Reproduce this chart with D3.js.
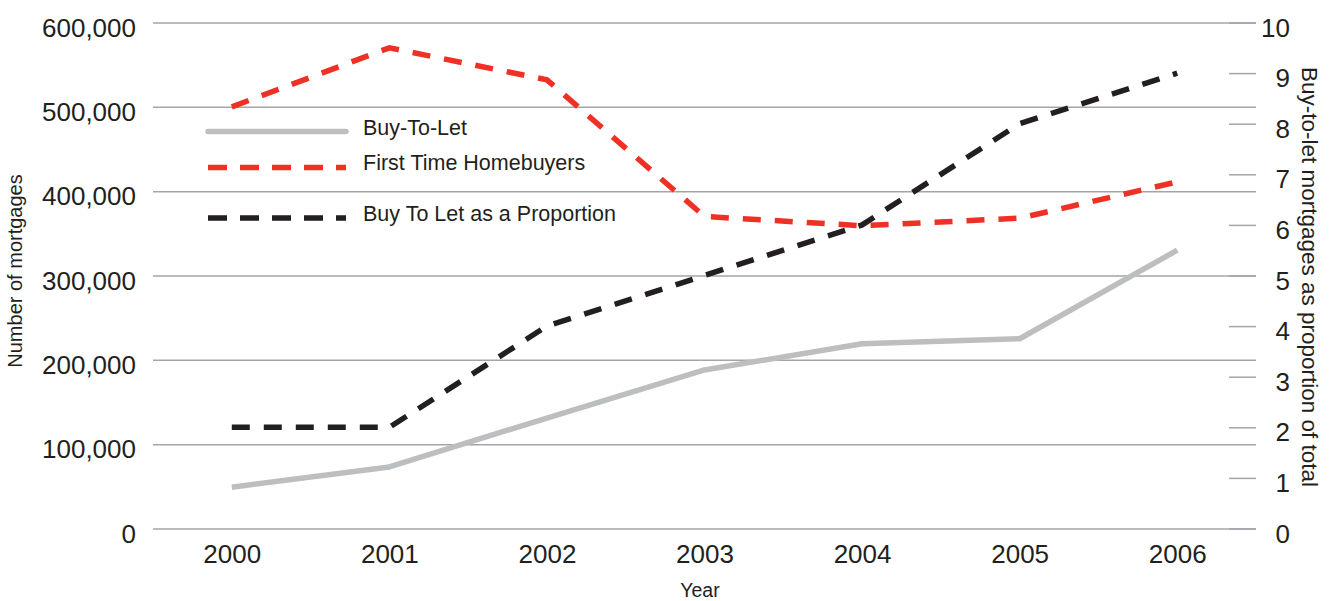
<!DOCTYPE html>
<html>
<head>
<meta charset="utf-8">
<script src="https://cdn.jsdelivr.net/npm/d3@7"></script>
<style>
  html, body { margin: 0; padding: 0; background: #fff; }
  svg { display: block; font-family: "Liberation Sans", Arial, Helvetica, sans-serif; }
</style>
</head>
<body>
<svg id="chart" width="1334" height="601"></svg>
<script>
// Mortgage data, 2000–2006
const years = ["2000", "2001", "2002", "2003", "2004", "2005", "2006"];
const buyToLet = [49000, 73000, 131000, 188000, 219000, 225000, 330000];
const firstTimeBuyers = [500000, 570000, 532000, 370000, 359000, 368000, 411000];
const btlProportion = [2, 2, 4, 5, 6, 8, 9];

const leftTicks = [0, 100000, 200000, 300000, 400000, 500000, 600000];
const rightTicks = [0, 1, 2, 3, 4, 5, 6, 7, 8, 9, 10];
const seriesNames = ["Buy-To-Let", "First Time Homebuyers", "Buy To Let as a Proportion"];

const textColor = "#231f20";
const gridColor = "#a3a5a8";
const grey = "#bcbec0";
const red = "#ee3124";
const black = "#231f20";
const tickFont = 26;

const svg = d3.select("#chart");
const plotLeft = 153, plotRight = 1256, plotTop = 22.5, plotBottom = 528.5;

const x = d3.scalePoint().domain(years).range([plotLeft, plotRight]).padding(0.5);
const yL = d3.scaleLinear().domain([0, 600000]).range([plotBottom, plotTop]);
const yR = d3.scaleLinear().domain([0, 10]).range([plotBottom, plotTop]);

// horizontal gridlines at left-axis ticks
const grid = svg.append("g")
  .attr("transform", `translate(${plotLeft},0)`)
  .call(d3.axisRight(yL).tickValues(leftTicks).tickSize(plotRight - plotLeft).tickFormat(""));
grid.select(".domain").remove();
grid.selectAll(".tick line").attr("stroke", gridColor).attr("stroke-width", 1.5);

// left axis labels
const fmt = d3.format(",");
const la = svg.append("g")
  .attr("transform", `translate(${plotLeft},0)`)
  .call(d3.axisLeft(yL).tickValues(leftTicks).tickSize(0).tickPadding(17).tickFormat(fmt));
la.select(".domain").remove();
la.selectAll("text").attr("font-size", tickFont).attr("fill", textColor)
  .attr("font-family", "Liberation Sans, Arial, sans-serif").attr("dy", "0.52em");

// right axis: short ticks and labels
const ra = svg.append("g")
  .attr("transform", `translate(${plotRight - 27},0)`)
  .call(d3.axisRight(yR).tickValues(rightTicks).tickSize(27).tickFormat(d3.format("d")));
ra.select(".domain").remove();
ra.selectAll(".tick line").attr("stroke", gridColor).attr("stroke-width", 1.5);
ra.selectAll("text").attr("font-size", tickFont).attr("fill", textColor)
  .attr("font-family", "Liberation Sans, Arial, sans-serif")
  .attr("x", 61).attr("text-anchor", "end").attr("dy", "0.52em");

// bottom axis labels
const xa = svg.append("g")
  .attr("transform", `translate(0,${plotBottom})`)
  .call(d3.axisBottom(x).tickSize(0));
xa.select(".domain").remove();
xa.selectAll("text").attr("font-size", tickFont).attr("fill", textColor)
  .attr("font-family", "Liberation Sans, Arial, sans-serif")
  .attr("y", 34.5).attr("dy", 0);

// axis titles
svg.append("text")
  .attr("transform", `translate(22,271) rotate(-90)`)
  .attr("text-anchor", "middle").attr("font-size", 20).attr("fill", textColor)
  .text("Number of mortgages");
svg.append("text")
  .attr("transform", `translate(1302,277) rotate(90)`)
  .attr("text-anchor", "middle").attr("font-size", 22.5).attr("fill", textColor)
  .text("Buy-to-let mortgages as proportion of total");
svg.append("text")
  .attr("x", 700).attr("y", 597)
  .attr("text-anchor", "middle").attr("font-size", 19.5).attr("fill", textColor)
  .text("Year");

// series lines
const lineL = d3.line().x((d, i) => x(years[i])).y(d => yL(d));
const lineR = d3.line().x((d, i) => x(years[i])).y(d => yR(d));

svg.append("path").datum(buyToLet)
  .attr("d", lineL).attr("fill", "none")
  .attr("stroke", grey).attr("stroke-width", 5.5).attr("stroke-linejoin", "round");

svg.append("path").datum(firstTimeBuyers)
  .attr("d", lineL).attr("fill", "none")
  .attr("stroke", red).attr("stroke-width", 5.5).attr("stroke-dasharray", "18,14");

svg.append("path").datum(btlProportion)
  .attr("d", lineR).attr("fill", "none")
  .attr("stroke", black).attr("stroke-width", 5.5).attr("stroke-dasharray", "18,14");

// legend
const legend = [
  { name: seriesNames[0], color: grey, dash: null, cap: "round", ly: 131.5, ty: 134.5 },
  { name: seriesNames[1], color: red, dash: "19,13", cap: "butt", ly: 167.5, ty: 170 },
  { name: seriesNames[2], color: black, dash: "19,13", cap: "butt", ly: 218, ty: 220.5 }
];
const lg = svg.append("g");
legend.forEach(l => {
  lg.append("line")
    .attr("x1", 208).attr("x2", 346).attr("y1", l.ly).attr("y2", l.ly)
    .attr("stroke", l.color).attr("stroke-width", 5.5)
    .attr("stroke-linecap", l.cap)
    .attr("stroke-dasharray", l.dash);
  lg.append("text")
    .attr("x", 363).attr("y", l.ty)
    .attr("font-size", 21.5).attr("fill", textColor)
    .text(l.name);
});
</script>
</body>
</html>
